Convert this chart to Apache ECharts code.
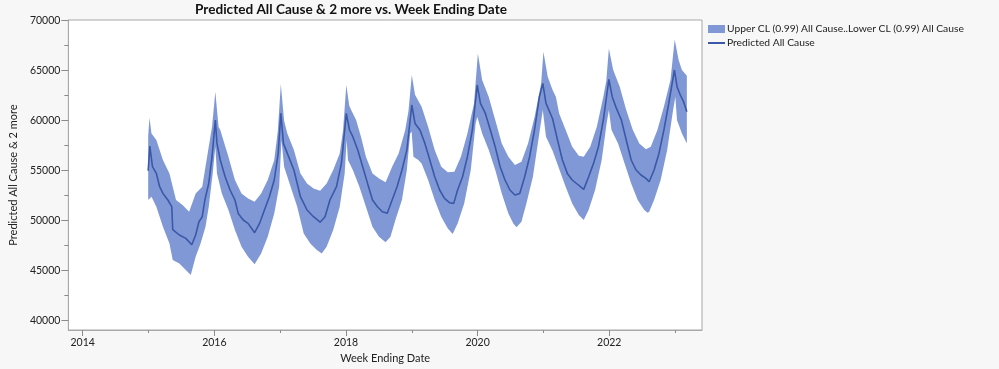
<!DOCTYPE html>
<html><head><meta charset="utf-8">
<script src="https://cdn.jsdelivr.net/npm/echarts@6/dist/echarts.min.js"></script>
<style>html,body{margin:0;padding:0;background:#f7f7f7}#c{width:999px;height:369px}</style>
</head><body><div id="c"></div><script>
// ---- data (decimal year, value) ----
const predicted = [[2014.995,55000],[2015.020,57470],[2015.060,55400],[2015.119,54730],[2015.169,53400],[2015.219,52730],[2015.294,52070],[2015.353,51400],[2015.368,49100],[2015.468,48570],[2015.567,48230],[2015.657,47600],[2015.716,48570],[2015.766,49900],[2015.816,50400],[2015.856,52070],[2015.915,53730],[2015.965,56400],[2016.015,60070],[2016.040,57730],[2016.090,56070],[2016.164,54400],[2016.239,53070],[2016.313,52070],[2016.363,50730],[2016.438,50070],[2016.512,49730],[2016.612,48800],[2016.687,49730],[2016.761,51070],[2016.836,52400],[2016.910,54070],[2016.970,56730],[2017.010,60730],[2017.050,57730],[2017.109,56730],[2017.209,55070],[2017.308,52400],[2017.408,51070],[2017.507,50400],[2017.607,49850],[2017.682,50400],[2017.756,52070],[2017.856,53400],[2017.930,55730],[2018.005,60730],[2018.054,59070],[2018.104,58400],[2018.179,57070],[2018.254,55400],[2018.328,53730],[2018.403,52070],[2018.478,51400],[2018.552,50900],[2018.627,50750],[2018.701,52070],[2018.776,53400],[2018.851,55070],[2018.925,57070],[2019.000,61570],[2019.049,59730],[2019.124,59070],[2019.199,57730],[2019.274,56070],[2019.348,54400],[2019.423,53070],[2019.497,52230],[2019.572,51800],[2019.637,51730],[2019.696,53070],[2019.771,54400],[2019.845,56400],[2019.920,59070],[2019.994,63570],[2020.043,61730],[2020.118,60730],[2020.193,59070],[2020.267,57400],[2020.342,55400],[2020.416,54070],[2020.491,53070],[2020.566,52570],[2020.640,52730],[2020.715,54400],[2020.790,56400],[2020.864,59070],[2020.939,62400],[2020.990,63730],[2021.039,61730],[2021.139,60200],[2021.214,58070],[2021.288,56070],[2021.363,54730],[2021.437,54070],[2021.512,53670],[2021.612,53130],[2021.687,54400],[2021.761,55730],[2021.836,57400],[2021.910,60070],[2021.994,64130],[2022.045,62400],[2022.109,61230],[2022.184,60070],[2022.258,58070],[2022.333,56070],[2022.407,55070],[2022.482,54570],[2022.557,54230],[2022.606,53900],[2022.681,55070],[2022.755,56730],[2022.830,59070],[2022.904,61730],[2022.990,65070],[2023.030,63400],[2023.079,62570],[2023.129,61900],[2023.179,60900]];

const upperCL = [[2014.995,58500],[2015.015,60300],[2015.045,58730],[2015.119,58070],[2015.219,56070],[2015.318,54730],[2015.418,52070],[2015.517,51570],[2015.617,50900],[2015.716,52730],[2015.816,53400],[2015.915,57400],[2015.965,59400],[2016.015,62900],[2016.064,59400],[2016.090,59070],[2016.214,56400],[2016.313,54070],[2016.413,52730],[2016.512,52230],[2016.612,51900],[2016.711,52730],[2016.811,54070],[2016.910,56070],[2016.965,59000],[2017.010,63670],[2017.060,60000],[2017.109,58730],[2017.209,57070],[2017.308,54730],[2017.408,53730],[2017.507,53230],[2017.607,53000],[2017.706,53730],[2017.806,55070],[2017.905,56730],[2017.955,59000],[2018.005,63570],[2018.050,61500],[2018.079,61070],[2018.154,60070],[2018.228,58400],[2018.303,56400],[2018.403,54730],[2018.502,54230],[2018.602,53850],[2018.701,55400],[2018.800,56730],[2018.900,59070],[2018.950,61000],[2019.000,64570],[2019.049,62600],[2019.149,61400],[2019.248,59400],[2019.348,57070],[2019.448,55400],[2019.547,54850],[2019.647,54900],[2019.746,56400],[2019.845,58730],[2019.945,61730],[2020.004,66730],[2020.069,64070],[2020.168,62400],[2020.268,60070],[2020.367,57730],[2020.467,56400],[2020.567,55570],[2020.666,55900],[2020.766,57730],[2020.866,60400],[2020.965,63730],[2021.000,66900],[2021.065,64400],[2021.139,63070],[2021.189,62400],[2021.239,60730],[2021.338,59070],[2021.437,57400],[2021.537,56500],[2021.612,56400],[2021.711,57400],[2021.811,59400],[2021.910,62400],[2021.955,64000],[2021.994,67230],[2022.060,65070],[2022.159,63400],[2022.258,61070],[2022.358,59070],[2022.457,57730],[2022.557,57150],[2022.631,57400],[2022.731,59070],[2022.830,61400],[2022.930,64070],[2022.994,68130],[2023.054,66070],[2023.104,65070],[2023.179,64500]];

const lowerCL = [[2014.995,52070],[2015.045,52400],[2015.119,51400],[2015.219,49400],[2015.318,47730],[2015.368,46070],[2015.468,45730],[2015.567,45070],[2015.642,44570],[2015.716,46400],[2015.791,47730],[2015.866,49400],[2015.915,51400],[2015.975,54730],[2016.015,57400],[2016.040,54730],[2016.114,52730],[2016.214,51070],[2016.313,49070],[2016.413,47400],[2016.512,46400],[2016.612,45650],[2016.711,46730],[2016.811,48400],[2016.910,50730],[2016.985,53400],[2017.020,58070],[2017.060,55400],[2017.159,53400],[2017.259,51400],[2017.358,48730],[2017.458,47730],[2017.557,47070],[2017.632,46730],[2017.706,47400],[2017.806,49070],[2017.905,51400],[2017.980,54730],[2018.010,58070],[2018.030,56070],[2018.104,55070],[2018.203,53400],[2018.303,51400],[2018.402,49400],[2018.502,48400],[2018.601,47850],[2018.676,48400],[2018.751,50070],[2018.850,52070],[2018.925,55070],[2018.975,58730],[2018.998,58900],[2019.025,56400],[2019.099,56070],[2019.149,55730],[2019.248,54070],[2019.348,52070],[2019.447,50400],[2019.547,49230],[2019.621,48670],[2019.696,49730],[2019.796,51730],[2019.896,55070],[2019.970,59730],[2019.994,60400],[2020.069,58730],[2020.169,57070],[2020.268,55070],[2020.367,52730],[2020.467,50730],[2020.542,49730],[2020.591,49350],[2020.666,49900],[2020.741,51730],[2020.840,54400],[2020.930,58400],[2020.990,61070],[2021.039,58400],[2021.139,57000],[2021.238,55200],[2021.337,53400],[2021.437,51730],[2021.537,50570],[2021.612,50070],[2021.686,51070],[2021.785,53070],[2021.885,56070],[2021.960,59730],[2021.994,61070],[2022.034,59070],[2022.134,57730],[2022.233,55730],[2022.333,53730],[2022.432,52070],[2022.532,51070],[2022.582,50800],[2022.606,50900],[2022.681,52070],[2022.781,54070],[2022.880,57070],[2022.970,61070],[2023.004,62400],[2023.029,60070],[2023.104,58730],[2023.179,57730]];

const xMajorTicks = [2014,2016,2018,2020,2022];
const xMinorTicks = [2015,2017,2019,2021,2023];
const yMajorTicks = [40000,45000,50000,55000,60000,65000,70000];
const yMinorTicks = [42500,47500,52500,57500,62500,67500];

const titleText = 'Predicted All Cause & 2 more vs. Week Ending Date';
const bandName = 'Upper CL (0.99) All Cause..Lower CL (0.99) All Cause';
const lineName = 'Predicted All Cause';
const xName = 'Week Ending Date';
const yName = 'Predicted All Cause & 2 more';

// ---- styles ----
const FONT = 'Lato';
const bandColor = '#8099d6';
const lineColor = '#3a58a7';
const frameColor = '#a8a8a8';
const tickColor = '#8a8a8a';
const textColor = '#222';
const X_MIN = 2013.782, X_MAX = 2023.409, Y_MIN = 39070, Y_MAX = 70070;

const chart = echarts.init(document.getElementById('c'));
const lblStyle = {fontFamily: FONT, fontSize: 10.5, color: textColor};
chart.setOption({
  backgroundColor: '#f7f7f7',
  animation: false,
  title: {text: titleText, left: 195, top: 3, padding: 0,
    textStyle: {fontFamily: FONT, fontWeight: 'bold', fontSize: 13.6, color: '#111'}},
  legend: {orient: 'vertical', left: 707, top: 24, padding: 0, itemWidth: 17, itemHeight: 8, itemGap: 4,
    textStyle: {fontFamily: FONT, fontSize: 10.3, color: textColor, padding: [0,0,0,-3]},
    data: [{name: bandName, icon: 'rect'},
           {name: lineName, itemStyle: {opacity: 0, color: 'rgba(0,0,0,0)', borderWidth: 0},
            lineStyle: {width: 2, color: lineColor}}]},
  grid: {left: 57, top: 20, width: 645, height: 310, show: true, backgroundColor: '#ffffff',
    borderColor: frameColor, borderWidth: 1},
  xAxis: [
    {type: 'value', min: X_MIN, max: X_MAX, splitLine: {show: false},
     axisLine: {show: true, lineStyle: {color: frameColor}},
     axisTick: {show: true, length: 6, customValues: xMajorTicks, lineStyle: {color: tickColor}},
     axisLabel: Object.assign({customValues: xMajorTicks, margin: 7, formatter: v => String(v)}, lblStyle),
     name: xName, nameLocation: 'middle', nameGap: 20, nameTextStyle: {fontFamily: FONT, fontSize: 11, color: textColor}},
    {type: 'value', min: X_MIN, max: X_MAX, position: 'bottom', splitLine: {show: false},
     axisLine: {show: false}, axisLabel: {show: false},
     axisTick: {show: true, length: 3, customValues: xMinorTicks, lineStyle: {color: tickColor}}}
  ],
  yAxis: [
    {type: 'value', min: Y_MIN, max: Y_MAX, splitLine: {show: false},
     axisLine: {show: true, lineStyle: {color: frameColor}},
     axisTick: {show: true, length: 7, customValues: yMajorTicks, lineStyle: {color: tickColor}},
     axisLabel: Object.assign({customValues: yMajorTicks, margin: 8, formatter: v => String(v)}, lblStyle),
     name: yName, nameLocation: 'middle', nameGap: 44, nameTextStyle: {fontFamily: FONT, fontSize: 11, color: textColor}},
    {type: 'value', min: Y_MIN, max: Y_MAX, position: 'left', splitLine: {show: false},
     axisLine: {show: false}, axisLabel: {show: false},
     axisTick: {show: true, length: 4, customValues: yMinorTicks, lineStyle: {color: tickColor}}}
  ],
  series: [
    {name: bandName, type: 'custom', xAxisIndex: 0, yAxisIndex: 0,
     itemStyle: {color: bandColor}, encode: {x: 0, y: 1},
     data: [upperCL[0]],
     renderItem: function (params, api) {
       const pts = upperCL.map(p => api.coord(p))
         .concat(lowerCL.slice().reverse().map(p => api.coord(p)));
       return {type: 'polygon', shape: {points: pts}, style: {fill: bandColor}};
     }, z: 2},
    {name: lineName, type: 'line', xAxisIndex: 0, yAxisIndex: 0, data: predicted,
     symbol: 'none', lineStyle: {color: lineColor, width: 1.6}, itemStyle: {color: lineColor}, z: 3}
  ]
});
</script></body></html>
